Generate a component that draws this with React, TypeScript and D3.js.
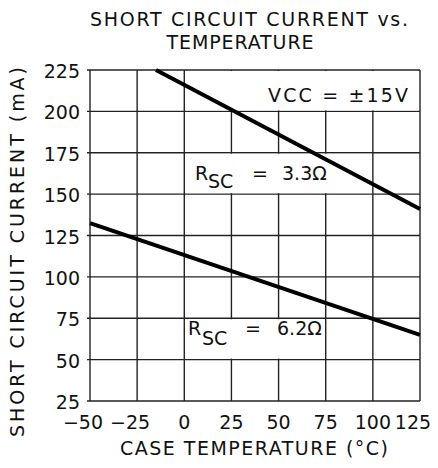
import React from "react";
import * as d3 from "d3";

const X_TICKS = [-50, -25, 0, 25, 50, 75, 100, 125];
const Y_TICKS = [25, 50, 75, 100, 125, 150, 175, 200, 225];

const TEMP_33 = [-15, 125];
const CURRENT_33 = [225, 141];
const TEMP_62 = [-50, 125];
const CURRENT_62 = [132.5, 65];

const WIDTH = 438;
const HEIGHT = 468;
const MARGIN = { TOP: 70, RIGHT: 18, BOTTOM: 67, LEFT: 90 };
const FONT = "'DejaVu Sans', sans-serif";

const App = () => {
  const x = d3
    .scaleLinear()
    .domain([-50, 125])
    .range([MARGIN.LEFT, WIDTH - MARGIN.RIGHT]);
  const y = d3
    .scaleLinear()
    .domain([25, 225])
    .range([HEIGHT - MARGIN.BOTTOM, MARGIN.TOP]);

  const path = (temps: number[], vals: number[]) =>
    d3
      .line<number>()
      .x((d) => x(d))
      .y((_, i) => y(vals[i]))(temps) || "";

  // label boxes hide the grid behind them
  const boxes = [
    { x0: 0, x1: 125, y0: 200, y1: 225 },
    { x0: 0, x1: 100, y0: 150, y1: 175 },
    { x0: 0, x1: 75, y0: 50, y1: 75 },
  ];

  const tickShift = (t: number) => (t < 0 || t === 125 ? -7 : 0);

  return (
    <svg
      width={WIDTH}
      height={HEIGHT}
      style={{ position: "absolute", left: 0, top: 0, background: "#fff" }}
      fontFamily={FONT}
      fill="#111"
    >
      <text x={249} y={26} fontSize={19} textAnchor="middle" textLength={318} lengthAdjust="spacing">
        SHORT CIRCUIT CURRENT vs.
      </text>
      <text x={240} y={49} fontSize={19} textAnchor="middle" textLength={147} lengthAdjust="spacing">
        TEMPERATURE
      </text>

      {/* grid */}
      {X_TICKS.map((t) => (
        <line key={"gx" + t} x1={x(t)} x2={x(t)} y1={y(225)} y2={y(25)} stroke="#222" strokeWidth={1.4} />
      ))}
      {Y_TICKS.map((t) => (
        <line key={"gy" + t} x1={x(-50) - 3} x2={x(125)} y1={y(t)} y2={y(t)} stroke="#222" strokeWidth={1.4} />
      ))}
      {boxes.map((b, i) => (
        <rect
          key={"b" + i}
          x={x(b.x0) + 1}
          y={y(b.y1) + 1}
          width={x(b.x1) - x(b.x0) - 2}
          height={y(b.y0) - y(b.y1) - 2}
          fill="#fff"
        />
      ))}

      <path d={path(TEMP_33, CURRENT_33)} stroke="#000" strokeWidth={4} fill="none" />
      <path d={path(TEMP_62, CURRENT_62)} stroke="#000" strokeWidth={4} fill="none" />

      {/* y tick labels */}
      {Y_TICKS.map((t) => (
        <text key={"ty" + t} x={80} y={y(t) + 8} fontSize={19} textAnchor="end">
          {t}
        </text>
      ))}
      {/* x tick labels */}
      {X_TICKS.map((t) => (
        <text key={"tx" + t} x={x(t) + tickShift(t)} y={429} fontSize={19} textAnchor="middle">
          {t < 0 ? "\u2212" + Math.abs(t) : t}
        </text>
      ))}

      <text x={254} y={455} fontSize={19} textAnchor="middle" textLength={268} lengthAdjust="spacing">
        CASE TEMPERATURE (°C)
      </text>
      <text
        transform="translate(24,252) rotate(-90)"
        fontSize={19}
        textAnchor="middle"
        textLength={370}
        lengthAdjust="spacing"
      >
        SHORT CIRCUIT CURRENT (mA)
      </text>

      <text x={268} y={102} fontSize={19} textLength={140} lengthAdjust="spacing">
        VCC = ±15V
      </text>

      <text x={195} y={180} fontSize={19}>R</text>
      <text x={208} y={188} fontSize={19}>SC</text>
      <text x={252} y={180} fontSize={19}>=</text>
      <text x={282} y={180} fontSize={19}>3.3Ω</text>

      <text x={188} y={335} fontSize={19}>R</text>
      <text x={202} y={345} fontSize={19}>SC</text>
      <text x={245} y={335} fontSize={19}>=</text>
      <text x={277} y={335} fontSize={19}>6.2Ω</text>
    </svg>
  );
};

export default App;
